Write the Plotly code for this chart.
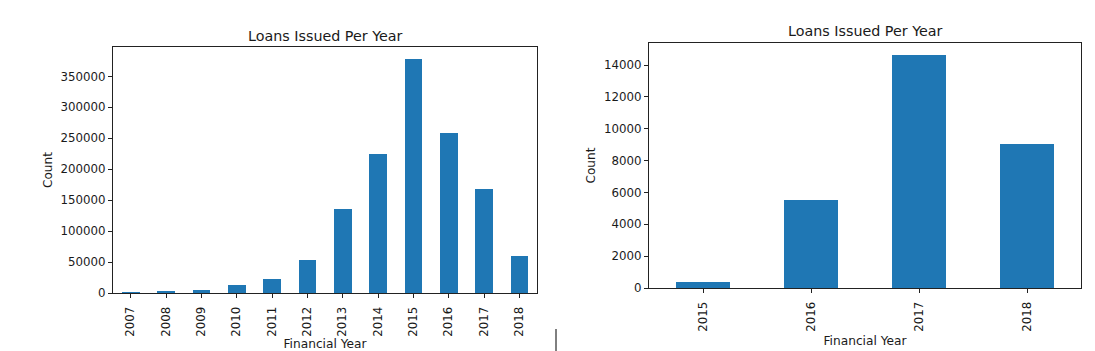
import plotly.graph_objects as go
from plotly.subplots import make_subplots

years_all = ["2007", "2008", "2009", "2010", "2011", "2012",
             "2013", "2014", "2015", "2016", "2017", "2018"]
counts_all = [250, 2400, 5400, 12900, 22600, 53400,
              135300, 225000, 378600, 257800, 168300, 59200]
left_ticks = [0, 50000, 100000, 150000, 200000, 250000, 300000, 350000]

years_sub = ["2015", "2016", "2017", "2018"]
counts_sub = [380, 5510, 14650, 9040]
right_ticks = [0, 2000, 4000, 6000, 8000, 10000, 12000, 14000]

W, H = 1095, 351
BAR = "#1f77b4"
FONT = "DejaVu Sans"
TXT = "#1a1a1a"

fig = make_subplots(rows=1, cols=2)

fig.add_trace(go.Bar(x=years_all, y=counts_all, width=0.5,
                     marker=dict(color=BAR, line=dict(width=0)),
                     showlegend=False), row=1, col=1)
fig.add_trace(go.Bar(x=years_sub, y=counts_sub, width=0.5,
                     marker=dict(color=BAR, line=dict(width=0)),
                     showlegend=False), row=1, col=2)


def px_x(a, b):
    return [a / W, b / W]


def px_y(top, bottom):
    return [1 - bottom / H, 1 - top / H]


common_x = dict(type="category", showline=True, mirror=True, linecolor="#222",
                linewidth=1, ticks="outside", ticklen=4, tickcolor="#222",
                tickangle=-90, showgrid=False, zeroline=False, automargin=False,
                ticklabelstandoff=4,
                tickfont=dict(family=FONT, size=11.8, color=TXT),
                title=dict(text="Financial Year", font=dict(family=FONT, size=12.2, color=TXT),
                           standoff=5))
common_y = dict(showline=True, mirror=True, linecolor="#222", linewidth=1,
                ticks="outside", ticklen=4, tickcolor="#222", showgrid=False,
                zeroline=False, tickformat="d", automargin=False,
                tickfont=dict(family=FONT, size=11.8, color=TXT),
                title=dict(text="Count", font=dict(family=FONT, size=12.2, color=TXT),
                           standoff=5))

fig.update_xaxes(common_x, row=1, col=1, domain=px_x(113, 537),
                 range=[-0.5, len(years_all) - 0.5])
fig.update_xaxes(common_x, row=1, col=2, domain=px_x(649, 1081),
                 range=[-0.5, len(years_sub) - 0.5])
fig.update_yaxes(common_y, row=1, col=1, domain=px_y(47, 293),
                 range=[0, max(counts_all) * 1.05], tickvals=left_ticks)
fig.update_yaxes(common_y, row=1, col=2, domain=px_y(43, 288),
                 range=[0, max(counts_sub) * 1.05], tickvals=right_ticks)

annotations = [
    dict(text="Loans Issued Per Year", x=(113 + 537) / 2 / W, y=1 - 36 / H,
         xref="paper", yref="paper", showarrow=False, xanchor="center", yanchor="middle",
         font=dict(family=FONT, size=14.3, color=TXT)),
    dict(text="Loans Issued Per Year", x=(649 + 1081) / 2 / W, y=1 - 31 / H,
         xref="paper", yref="paper", showarrow=False, xanchor="center", yanchor="middle",
         font=dict(family=FONT, size=14.3, color=TXT)),
]

fig.update_layout(
    width=W, height=H,
    margin=dict(l=0, r=0, t=0, b=0),
    paper_bgcolor="white", plot_bgcolor="white",
    annotations=annotations,
    bargap=0,
    shapes=[dict(type="line", xref="paper", yref="paper",
                 x0=556 / W, x1=556 / W, y0=0, y1=22 / H,
                 line=dict(color="black", width=1))],
)

fig.write_html("out.html")
